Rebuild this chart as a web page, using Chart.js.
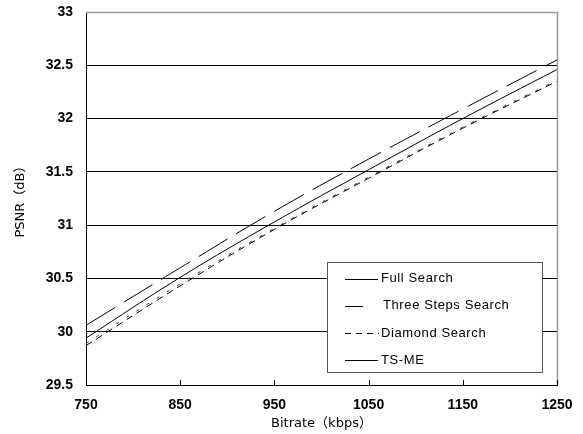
<!DOCTYPE html>
<html>
<head>
<meta charset="utf-8">
<script src="https://cdn.jsdelivr.net/npm/chart.js@4/dist/chart.umd.min.js"></script>
<style>
  html, body { margin: 0; padding: 0; background: #fff; }
  #wrap { width: 583px; height: 434px; }
</style>
</head>
<body>
<div id="wrap"><canvas id="myChart"></canvas></div>
<script>
// Dados
var bitrates = [750, 850, 950, 1050, 1150, 1250];
var fullSearch = [29.94, 30.51, 31.03, 31.52, 32.00, 32.46];
var threeSteps = [30.06, 30.60, 31.13, 31.62, 32.09, 32.55];
var diamond = [29.87, 30.43, 30.96, 31.44, 31.91, 32.35];
var tsme = [29.89, 30.45, 30.97, 31.45, 31.92, 32.36];
var seriesNames = ['Full Search', 'Three Steps Search', 'Diamond Search', 'TS-ME'];
var yTicks = [29.5, 30, 30.5, 31, 31.5, 32, 32.5, 33];

function toPoints(vals) {
  return bitrates.map(function (b, i) { return { x: b, y: vals[i] }; });
}

// Moldura cinza, marcas do eixo x e legenda dentro da area
var extras = {
  id: 'extras',
  afterDraw: function (chart) {
    var ctx = chart.ctx;
    var a = chart.chartArea;
    var xs = chart.scales.x;
    ctx.save();
    ctx.strokeStyle = '#999';
    ctx.lineWidth = 1.5;
    ctx.beginPath();
    ctx.moveTo(a.left, a.top + 0.5);
    ctx.lineTo(a.right + 0.5, a.top + 0.5);
    ctx.lineTo(a.right + 0.5, a.bottom);
    ctx.stroke();

    ctx.strokeStyle = '#000';
    ctx.lineWidth = 1;
    bitrates.forEach(function (b) {
      var px = Math.round(xs.getPixelForValue(b)) + 0.5;
      ctx.beginPath();
      ctx.moveTo(px, a.bottom);
      ctx.lineTo(px, a.bottom - 5);
      ctx.stroke();
    });

    // legenda
    var lx = 327, ly = 262, lw = 215, lh = 110;
    ctx.fillStyle = '#fff';
    ctx.fillRect(lx, ly, lw, lh);
    ctx.strokeStyle = '#555';
    ctx.lineWidth = 1;
    ctx.strokeRect(lx + 0.5, ly + 0.5, lw, lh);
    ctx.font = '13px "Liberation Sans", Arial, sans-serif';
    if ('letterSpacing' in ctx) { ctx.letterSpacing = '0.6px'; }
    ctx.textBaseline = 'middle';
    ctx.fillStyle = '#000';
    ctx.strokeStyle = '#000';
    var legendDash = [[], [], [6, 5], []];
    var lineEnd = [378, 363, 379, 378];
    var textX = [381, 383, 381, 381];
    chart.data.datasets.forEach(function (ds, i) {
      var y = ly + 16.5 + i * 27.3;
      ctx.setLineDash(legendDash[i]);
      ctx.beginPath();
      ctx.moveTo(345, Math.round(y) + 0.5);
      ctx.lineTo(lineEnd[i], Math.round(y) + 0.5);
      ctx.stroke();
      ctx.setLineDash([]);
      ctx.fillText(ds.label, textX[i], y);
    });
    ctx.restore();
  }
};

var ctx = document.getElementById('myChart').getContext('2d');

var tickFont = { family: '"Liberation Sans", Arial, sans-serif', size: 14, weight: 'bold' };
var titleFont = { family: '"DejaVu Sans", "Noto Sans CJK JP", sans-serif', size: 13 };

var myChart = new Chart(ctx, {
  type: 'line',
  data: {
    datasets: [{
      label: seriesNames[0],
      data: toPoints(fullSearch),
      borderColor: '#000',
      borderWidth: 1,
      pointRadius: 0,
      tension: 0.4
    }, {
      label: seriesNames[1],
      data: toPoints(threeSteps),
      borderColor: '#000',
      borderWidth: 1,
      borderDash: [34, 10],
      pointRadius: 0,
      tension: 0.4
    }, {
      label: seriesNames[2],
      data: toPoints(diamond),
      borderColor: '#000',
      borderWidth: 1,
      borderDash: [7, 5],
      pointRadius: 0,
      tension: 0.4
    }, {
      label: seriesNames[3],
      data: toPoints(tsme),
      borderColor: '#333',
      borderWidth: 1,
      borderDash: [3, 9],
      pointRadius: 0,
      tension: 0.4
    }]
  },
  options: {
    responsive: true,
    maintainAspectRatio: false,
    animation: false,
    layout: { padding: { top: 12, right: 26, left: 0, bottom: 0 } },
    plugins: {
      legend: { display: false },
      tooltip: { enabled: false }
    },
    scales: {
      x: {
        type: 'linear',
        min: 750,
        max: 1250,
        afterBuildTicks: function (scale) {
          scale.ticks = bitrates.map(function (v) { return { value: v }; });
        },
        afterFit: function (scale) {
          scale.height = 49;
          scale.paddingLeft = 0;
          scale.paddingRight = 0;
        },
        grid: { display: false, drawTicks: false },
        border: { display: true, color: '#000', width: 1 },
        ticks: {
          color: '#000',
          padding: 12,
          maxRotation: 0,
          font: tickFont,
          callback: function (v) { return String(v); }
        },
        title: {
          display: true,
          text: 'Bitrate（kbps）',
          color: '#000',
          padding: { top: 0, bottom: 3 },
          font: titleFont
        }
      },
      y: {
        min: 29.5,
        max: 33,
        afterBuildTicks: function (scale) {
          scale.ticks = yTicks.map(function (v) { return { value: v }; });
        },
        afterFit: function (scale) {
          scale.width = 86;
          scale.paddingTop = 0;
          scale.paddingBottom = 0;
        },
        grid: {
          color: function (c) { return c.tick && c.tick.value === 33 ? 'rgba(0,0,0,0)' : '#000'; },
          lineWidth: 1,
          drawTicks: false
        },
        border: { display: true, color: '#000', width: 1 },
        ticks: {
          color: '#000',
          padding: 13,
          font: tickFont,
          callback: function (v) { return String(v); }
        },
        title: {
          display: true,
          text: 'PSNR（dB）',
          color: '#000',
          padding: { top: 13, bottom: 0 },
          font: titleFont
        }
      }
    }
  },
  plugins: [extras]
});
</script>
</body>
</html>
